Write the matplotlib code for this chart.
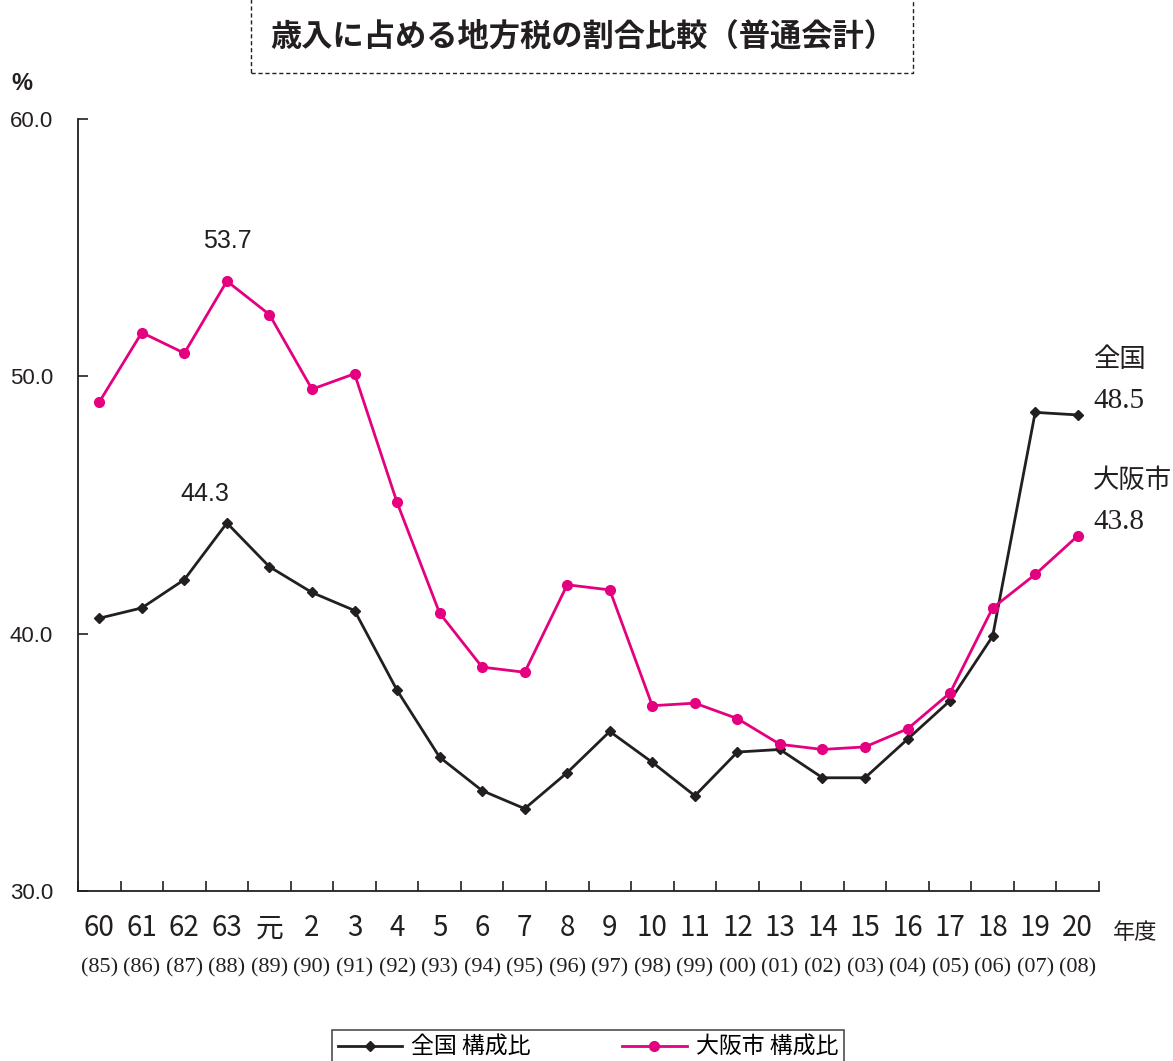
import numpy as np
import matplotlib.pyplot as plt
import matplotlib.patches as patches

plt.rcParams['font.family'] = ['Noto Sans CJK JP', 'DejaVu Sans']

# 年度 (和暦) と西暦
nendo = ['60', '61', '62', '63', '元', '2', '3', '4', '5', '6', '7', '8', '9',
         '10', '11', '12', '13', '14', '15', '16', '17', '18', '19', '20']
seireki = ['(85)', '(86)', '(87)', '(88)', '(89)', '(90)', '(91)', '(92)', '(93)', '(94)',
           '(95)', '(96)', '(97)', '(98)', '(99)', '(00)', '(01)', '(02)', '(03)', '(04)',
           '(05)', '(06)', '(07)', '(08)']

# 構成比 (%)
zenkoku = [40.6, 41.0, 42.1, 44.3, 42.6, 41.6, 40.9, 37.8, 35.2, 33.9, 33.2, 34.6,
           36.2, 35.0, 33.7, 35.4, 35.5, 34.4, 34.4, 35.9, 37.4, 39.9, 48.6, 48.5]
osaka = [49.0, 51.7, 50.9, 53.7, 52.4, 49.5, 50.1, 45.1, 40.8, 38.7, 38.5, 41.9,
         41.7, 37.2, 37.3, 36.7, 35.7, 35.5, 35.6, 36.3, 37.7, 41.0, 42.3, 43.8]

black = '#231f20'
pink = '#e4007f'

fig = plt.figure(figsize=(11.73, 10.61), dpi=100)
ax = fig.add_axes([78 / 1173, 170 / 1061, 1021 / 1173, 772 / 1061])

x = np.arange(len(nendo))
ax.plot(x, zenkoku, color=black, lw=2, marker='D', ms=5.5, label='全国 構成比')
ax.plot(x, osaka, color=pink, lw=2, marker='o', ms=7, label='大阪市 構成比')

ax.set_xlim(-0.5, len(nendo) - 0.5)
ax.set_ylim(30, 60)
ax.set_yticks([30, 40, 50, 60])
ax.set_yticklabels(['30.0', '40.0', '50.0', '60.0'], fontsize=16, family=['Liberation Sans', 'DejaVu Sans'])
ax.tick_params(axis='y', direction='in', length=7, width=1.2, pad=18, colors=black)

ax.set_xticks(x)
ax.set_xticklabels(nendo, fontsize=20, family=['Noto Sans CJK JP', 'DejaVu Sans'])
ax.tick_params(axis='x', which='major', length=0, pad=16, colors=black)
ax.set_xticks(np.arange(len(nendo) + 1) - 0.5, minor=True)
ax.tick_params(axis='x', which='minor', direction='in', length=7, width=1.2, colors=black)

for s in ['top', 'right']:
    ax.spines[s].set_visible(False)
for s in ['left', 'bottom']:
    ax.spines[s].set_linewidth(1.3)
    ax.spines[s].set_color(black)

# 西暦の行と「年度」
tr = ax.get_xaxis_transform()
for i, lab in enumerate(seireki):
    ax.text(i, -0.1, lab, transform=tr, ha='center', va='center', fontsize=16,
            family=['Liberation Serif', 'DejaVu Serif'], color=black)
ax.text(len(nendo) + 0.35, -0.054, '年度', transform=tr, ha='center', va='center',
        fontsize=16, color=black, clip_on=False)

# ピークのラベル
ax.annotate(f'{osaka[3]:.1f}', (3, osaka[3]), xytext=(0, 29), textcoords='offset points',
            ha='center', va='center', fontsize=18, family=['Liberation Sans'], color=black)
ax.annotate(f'{zenkoku[3]:.1f}', (3, zenkoku[3]), xytext=(-16, 21), textcoords='offset points',
            ha='center', va='center', fontsize=18, family=['Liberation Sans'], color=black)

# 右端のラベル
serif = ['Liberation Serif', 'Noto Sans CJK JP']
ax.annotate('全国', (x[-1], zenkoku[-1]), xytext=(11, 40), textcoords='offset points',
            ha='left', va='center', fontsize=19, family=serif, color=black, annotation_clip=False)
ax.annotate(f'{zenkoku[-1]:.1f}', (x[-1], zenkoku[-1]), xytext=(11, 10), textcoords='offset points',
            ha='left', va='center', fontsize=21, family=serif, color=black, annotation_clip=False)
ax.annotate('大阪市', (x[-1], osaka[-1]), xytext=(11, 40), textcoords='offset points',
            ha='left', va='center', fontsize=19, family=serif, color=black, annotation_clip=False)
ax.annotate(f'{osaka[-1]:.1f}', (x[-1], osaka[-1]), xytext=(11, 10), textcoords='offset points',
            ha='left', va='center', fontsize=21, family=serif, color=black, annotation_clip=False)

fig.text(22 / 1173, 1 - 83 / 1061, '%', fontsize=17, ha='center', va='center',
         family=['Liberation Sans'], color=black, weight='bold')

# タイトル (点線の枠、上辺は画像の外)
fig.text(583 / 1173, 1 - 37 / 1061, '歳入に占める地方税の割合比較（普通会計）', fontsize=22.5,
         ha='center', va='center', weight='bold', color=black)
fig.patches.append(patches.Rectangle((251 / 1173, 1 - 73 / 1061), 662 / 1173, 80 / 1061,
                                     transform=fig.transFigure, fill=False, ec=black,
                                     lw=1, ls=(0, (3, 2))))

# 凡例 (下辺は画像の外)
leg = fig.legend(loc='upper center', bbox_to_anchor=(588 / 1173, 1 - 1030 / 1061), ncol=2,
                 fontsize=16.5, frameon=True, fancybox=False, edgecolor=black,
                 handlelength=2.8, columnspacing=4.0, borderpad=0.25, handletextpad=0.4,
                 borderaxespad=0)
leg.get_frame().set_linewidth(1.2)

fig.savefig('out.png', dpi=100)
